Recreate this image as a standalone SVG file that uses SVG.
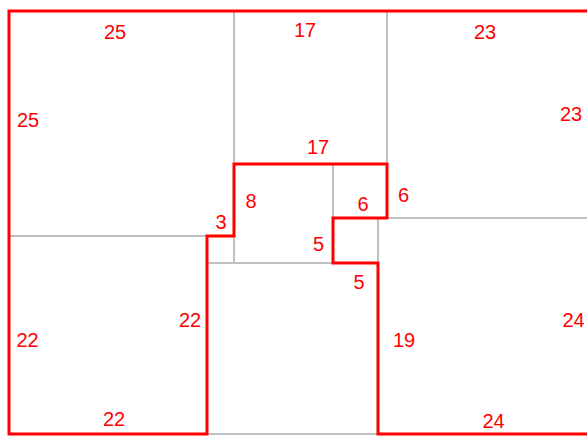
<svg xmlns="http://www.w3.org/2000/svg" width="587" height="437" viewBox="0 0 587 437">
<style>
.sq{fill:none;stroke:#c0c0c0;stroke-width:2}
.out{fill:none;stroke:#ff0000;stroke-width:3;stroke-linejoin:miter}
text{font-family:"Liberation Sans",Arial,sans-serif;font-size:20px;fill:#ff0000;text-anchor:middle}
</style>
<rect width="587" height="437" fill="#ffffff"/>
<g id="squares">
<g id="sq25"><rect class="sq" x="9" y="11" width="225" height="225"/></g>
<g id="sq17"><rect class="sq" x="234" y="11" width="153" height="153"/></g>
<g id="sq23"><rect class="sq" x="387" y="11" width="207" height="207"/></g>
<g id="sq22"><rect class="sq" x="9" y="236" width="198" height="198"/></g>
<g id="sq3"><rect class="sq" x="207" y="236" width="27" height="27"/></g>
<g id="sq11"><rect class="sq" x="234" y="164" width="99" height="99"/></g>
<g id="sq6"><rect class="sq" x="333" y="164" width="54" height="54"/></g>
<g id="sq5"><rect class="sq" x="333" y="218" width="45" height="45"/></g>
<g id="sq19"><rect class="sq" x="207" y="263" width="171" height="171"/></g>
<g id="sq24"><rect class="sq" x="378" y="218" width="216" height="216"/></g>
</g>
<g id="outline">
<path class="out" d="M9,11 L594,11 L594,434 L378,434 L378,263 L333,263 L333,218 L387,218 L387,164 L234,164 L234,236 L207,236 L207,434 L9,434 Z"/>
</g>
<g id="labels">
<text x="115" y="39">25</text>
<text x="28" y="127">25</text>
<text x="305" y="37">17</text>
<text x="485" y="39">23</text>
<text x="571" y="121">23</text>
<text x="318" y="154">17</text>
<text x="251" y="208">8</text>
<text x="221" y="229">3</text>
<text x="363" y="211">6</text>
<text x="403.5" y="202">6</text>
<text x="318.5" y="251">5</text>
<text x="359" y="289">5</text>
<text x="27.5" y="347">22</text>
<text x="190" y="327">22</text>
<text x="114" y="426">22</text>
<text x="404" y="347">19</text>
<text x="573.5" y="327">24</text>
<text x="493.5" y="428">24</text>
</g>
</svg>
